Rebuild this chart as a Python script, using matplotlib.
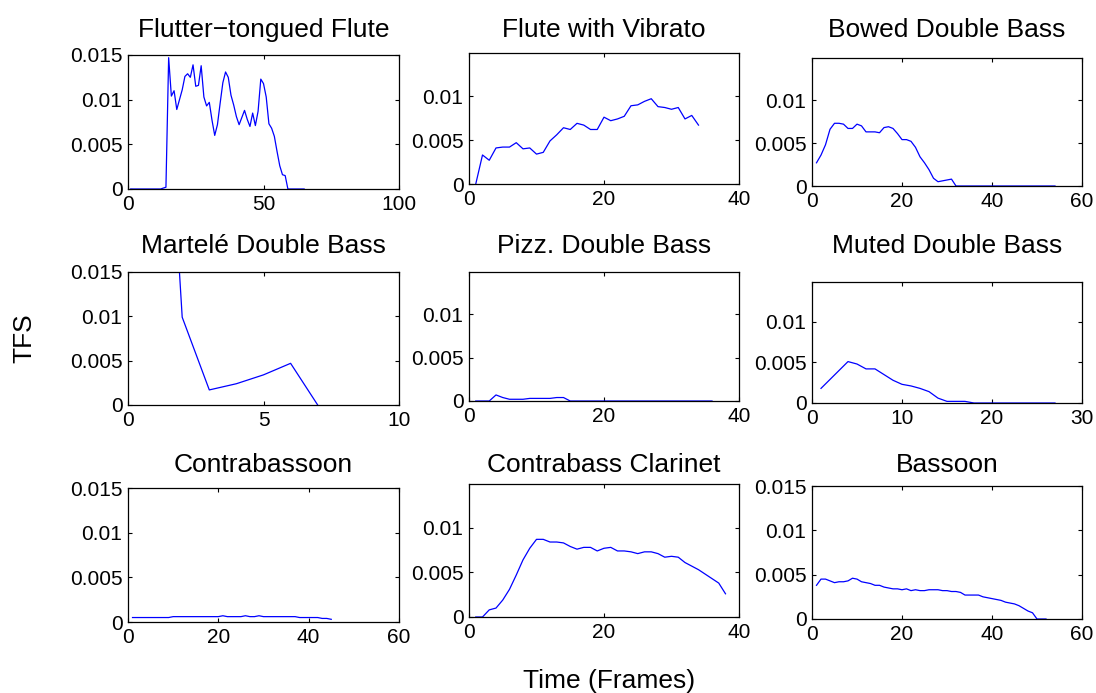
import matplotlib
matplotlib.use("Agg")
import matplotlib.pyplot as plt
from matplotlib.ticker import FuncFormatter

plt.rcParams['font.family'] = ['Liberation Sans', 'DejaVu Sans']

# TFS per frame, frames start at 1
flutter_flute = [0, 0, 0, 0, 0, 0, 0, 0, 0, 0, 0, 0, 0.0001, 0.0002,
                 0.0147, 0.0104, 0.0110, 0.0089, 0.0100, 0.0111, 0.0126, 0.0129,
                 0.0125, 0.0139, 0.0115, 0.0116, 0.0138, 0.0103, 0.0093, 0.0097,
                 0.0077, 0.0060, 0.0072, 0.0096, 0.0119, 0.0131, 0.0125, 0.0105,
                 0.0094, 0.0081, 0.0072, 0.0080, 0.0088, 0.0078, 0.0070, 0.0085,
                 0.0071, 0.0087, 0.0123, 0.0118, 0.0103, 0.0073, 0.0068, 0.0059,
                 0.0042, 0.0026, 0.0016, 0.0015, 0, 0, 0, 0, 0, 0, 0]
flute_vibrato = [0, 0.0033, 0.0027, 0.0041, 0.0042, 0.0042, 0.0047, 0.0040,
                 0.0041, 0.0034, 0.0036, 0.0049, 0.0056, 0.0064, 0.0062, 0.0069,
                 0.0067, 0.0062, 0.0062, 0.0076, 0.0072, 0.0074, 0.0077, 0.0089,
                 0.0090, 0.0094, 0.0097, 0.0088, 0.0087, 0.0085, 0.0087, 0.0074,
                 0.0078, 0.0067]
bowed_bass = [0.0027, 0.0036, 0.0048, 0.0066, 0.0073, 0.0073, 0.0072, 0.0067,
              0.0067, 0.0072, 0.0070, 0.0063, 0.0063, 0.0063, 0.0062, 0.0068,
              0.0069, 0.0067, 0.0061, 0.0054, 0.0054, 0.0052, 0.0045, 0.0034,
              0.0027, 0.0019, 0.0009, 0.0005, 0.0006, 0.0007, 0.0008, 0, 0, 0,
              0, 0, 0, 0, 0, 0, 0, 0, 0, 0, 0, 0, 0, 0, 0, 0, 0, 0, 0, 0]
martele_bass = [0.06, 0.0099, 0.0017, 0.0024, 0.0034, 0.0047, 0]
pizz_bass = [0, 0, 0, 0.0007, 0.0004, 0.0002, 0.0002, 0.0002, 0.0003, 0.0003,
             0.0003, 0.0003, 0.0004, 0.0004, 0, 0, 0, 0, 0, 0, 0, 0, 0, 0, 0,
             0, 0, 0, 0, 0, 0, 0, 0, 0, 0, 0]
muted_bass = [0.0018, 0.0029, 0.0040, 0.0051, 0.0048, 0.0042, 0.0042, 0.0035,
              0.0028, 0.0023, 0.0021, 0.0018, 0.0014, 0.0006, 0.0002, 0.0002,
              0.0002, 0, 0, 0, 0, 0, 0, 0, 0, 0, 0]
contrabassoon = [0.0005, 0.0005, 0.0005, 0.0005, 0.0005, 0.0005, 0.0005, 0.0005,
                 0.0005, 0.0006, 0.0006, 0.0006, 0.0006, 0.0006, 0.0006, 0.0006,
                 0.0006, 0.0006, 0.0006, 0.0006, 0.0007, 0.0006, 0.0006, 0.0006,
                 0.0006, 0.0007, 0.0006, 0.0006, 0.0007, 0.0006, 0.0006, 0.0006,
                 0.0006, 0.0006, 0.0006, 0.0006, 0.0006, 0.0005, 0.0005, 0.0005,
                 0.0005, 0.0005, 0.0004, 0.0004, 0.0003]
contrabass_clarinet = [0, 0, 0.0008, 0.0010, 0.0019, 0.0031, 0.0047, 0.0064,
                       0.0077, 0.0087, 0.0087, 0.0084, 0.0084, 0.0083, 0.0079,
                       0.0076, 0.0078, 0.0078, 0.0074, 0.0077, 0.0078, 0.0074,
                       0.0074, 0.0073, 0.0071, 0.0073, 0.0073, 0.0071, 0.0067,
                       0.0068, 0.0067, 0.0061, 0.0057, 0.0053, 0.0048, 0.0043,
                       0.0038, 0.0026]
bassoon = [0.0038, 0.0045, 0.0045, 0.0043, 0.0041, 0.0042, 0.0042, 0.0043,
           0.0046, 0.0045, 0.0042, 0.0041, 0.0040, 0.0038, 0.0038, 0.0036,
           0.0035, 0.0034, 0.0034, 0.0033, 0.0034, 0.0032, 0.0033, 0.0032,
           0.0032, 0.0033, 0.0033, 0.0033, 0.0032, 0.0032, 0.0031, 0.0031,
           0.0030, 0.0027, 0.0027, 0.0027, 0.0027, 0.0025, 0.0024, 0.0023,
           0.0022, 0.0021, 0.0019, 0.0018, 0.0017, 0.0015, 0.0012, 0.0009,
           0.0007, 0, 0, 0]

titles = ['Flutter\u2212tongued Flute', 'Flute with Vibrato', 'Bowed Double Bass',
          'Martelé Double Bass', 'Pizz. Double Bass', 'Muted Double Bass',
          'Contrabassoon', 'Contrabass Clarinet', 'Bassoon']
series = [flutter_flute, flute_vibrato, bowed_bass, martele_bass, pizz_bass,
          muted_bass, contrabassoon, contrabass_clarinet, bassoon]
x_max = [100, 40, 60, 10, 40, 30, 60, 40, 60]
x_step = [50, 20, 20, 5, 20, 10, 20, 20, 20]
y_max = [0.015, 0.0149, 0.0149, 0.015, 0.0149, 0.0149, 0.015, 0.0149, 0.015]

# axes boxes in pixels: left, right, top, bottom (from top of figure)
W, H = 1096, 693
boxes = [(128, 399, 55, 189), (469, 739, 53, 184), (812, 1082, 58, 186),
         (128, 399, 272, 405), (469, 739, 272, 401), (812, 1082, 282, 403),
         (128, 399, 488, 622), (469, 739, 484, 617), (812, 1082, 486, 619)]
title_base = [37, 37, 37, 253, 253, 253, 472, 472, 472]

fig = plt.figure(figsize=(W / 100, H / 100), dpi=100)

for i in range(9):
    l, r, t, b = boxes[i]
    ax = fig.add_axes([l / W, (H - b) / H, (r - l) / W, (b - t) / H])
    y = series[i]
    ax.plot(range(1, len(y) + 1), y, color='#0000ff', lw=0.9)
    ax.set_xlim(0, x_max[i])
    ax.set_ylim(0, y_max[i])
    ax.set_xticks(range(0, x_max[i] + 1, x_step[i]))
    ax.set_yticks([0, 0.005, 0.01, 0.015])
    ax.set_ylim(0, y_max[i])
    ax.yaxis.set_major_formatter(FuncFormatter(lambda v, p: '%g' % round(v, 4)))
    ax.tick_params(direction='in', top=True, right=True, length=3,
                   width=0.8, labelsize=15, pad=4)
    for s in ax.spines.values():
        s.set_linewidth(0.9)
    fig.text((l + r) / 2 / W, (H - title_base[i]) / H, titles[i],
             ha='center', va='baseline', fontsize=19)

fig.text(24 / W, (H - 338) / H, 'TFS', rotation=90, ha='center', va='center',
         fontsize=19)
fig.text(609 / W, (H - 688) / H, 'Time (Frames)', ha='center', va='baseline',
         fontsize=19)

fig.savefig('out.png', dpi=100)
